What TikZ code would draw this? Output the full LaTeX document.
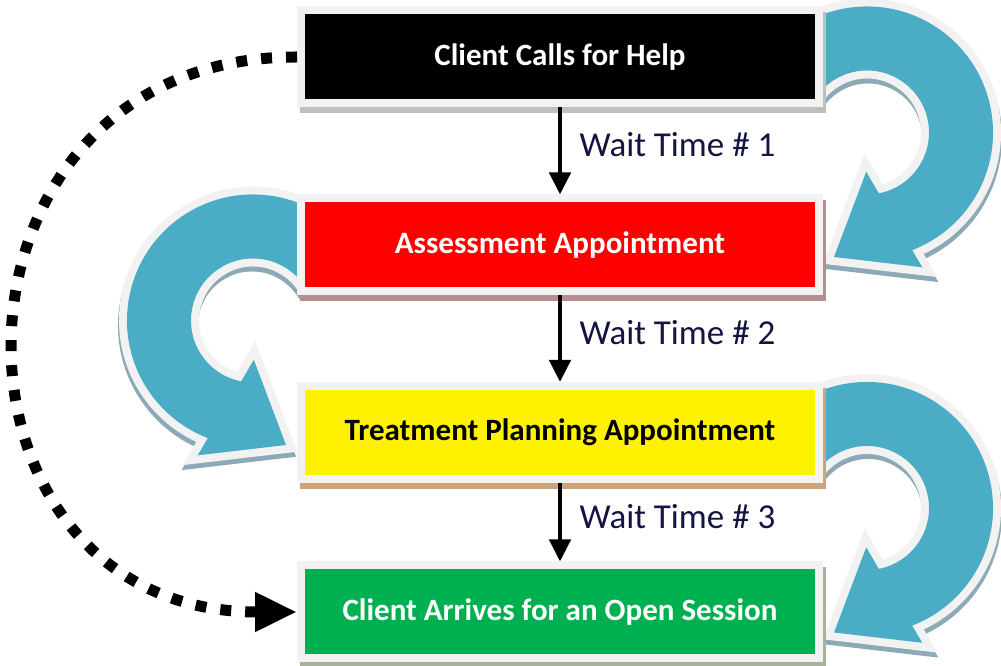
\documentclass[tikz,border=0pt]{standalone}
\usepackage{fontspec}
\setmainfont{Carlito}
\usetikzlibrary{positioning,arrows.meta,backgrounds}

\definecolor{framegray}{RGB}{242,242,242}
\definecolor{loopblue}{RGB}{75,172,198}
\definecolor{loopshade}{RGB}{140,170,182}
\definecolor{waitnavy}{RGB}{20,20,66}
\definecolor{boxgreen}{RGB}{0,176,80}
\definecolor{shadeblack}{RGB}{191,191,191}
\definecolor{shadered}{RGB}{178,142,142}
\definecolor{shadeyellow}{RGB}{204,163,125}
\definecolor{shadegreen}{RGB}{165,180,150}

% outline of the big curved arrow, origin at the box side it leaves
\newcommand{\loopshape}{(-59.2,-3.2) arc[start angle=145,end angle=-69,radius=126]
  -- (99.3,-210.3) -- (11,-200) -- (43.2,-114.8) -- (55.83,-136.36)
  arc[start angle=-79,end angle=145,radius=62] -- cycle}

\tikzset{
  stage/.style 2 args={rectangle, fill=#1, draw=framegray, line width=8pt,
    minimum width=518pt, minimum height=93pt, inner sep=0pt, text=white,
    font=\bfseries\fontsize{31pt}{36pt}\selectfont,
    preaction={draw=#2, fill=#2, line width=8pt, transform canvas={shift={(3pt,-6pt)}}}},
  loop arrow/.pic={
    \path[fill=loopshade, draw=loopshade, line width=16pt, shift={(1,-5)}] \loopshape;
    \path[draw=framegray, line width=16pt] \loopshape;
    \path[fill=loopblue] \loopshape;
  }
}

\begin{document}
\begin{tikzpicture}[x=1pt,y=1pt,node distance=188pt,on grid,
    flow/.style={line width=4.5pt, -{Triangle[width=21pt,length=22pt]}},
    wait/.style={pos=.43, anchor=west, xshift=14pt, text=waitnavy, font=\fontsize{35pt}{40pt}\selectfont},
    skip link/.style={line width=11pt, dash pattern=on 11pt off 14pt, -{Triangle[length=42pt,width=37pt]}}]
	\useasboundingbox (0,0) rectangle (1001,666);
	\node[stage={black}{shadeblack}] (cch) at (560,609) {Client Calls for Help};
	\node[stage={red}{shadered}] (aa) [below=of cch] {Assessment Appointment};
	\node[stage={yellow}{shadeyellow}, text=black] (tpa) [below=187.5pt of aa] {Treatment Planning Appointment};
	\node[stage={boxgreen}{shadegreen}] (coa) [below=179.5pt of tpa] {Client Arrives for an Open Session};
	\path[flow]
	(cch) edge node[wait] {Wait Time \# 1} (aa)
	(aa) edge node[wait] {Wait Time \# 2} (tpa)
	(tpa) edge node[wait] {Wait Time \# 3} (coa);
	\draw[skip link] (cch.west) to[out=180,in=180,looseness=1.73] (coa.west);
	\begin{scope}[on background layer]
		\pic at (cch.east) {loop arrow};
		\pic[xscale=-1] at (aa.west) {loop arrow};
		\pic at (tpa.east) {loop arrow};
	\end{scope}
\end{tikzpicture}
\end{document}
